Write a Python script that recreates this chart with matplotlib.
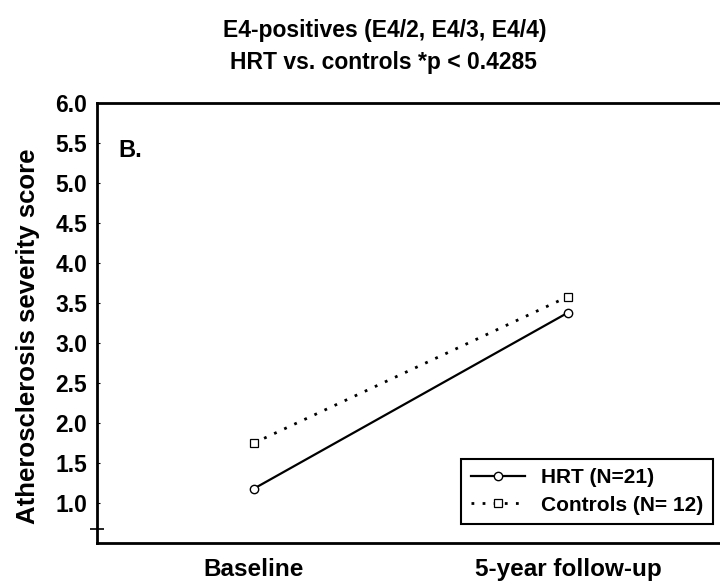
import matplotlib.pyplot as plt

# data
timepoints = ["Baseline", "5-year follow-up"]
x_pos = [1, 2]
hrt_scores = [1.18, 3.38]
control_scores = [1.75, 3.58]
y_ticks = [1.0, 1.5, 2.0, 2.5, 3.0, 3.5, 4.0, 4.5, 5.0, 5.5, 6.0]

plt.rcParams["font.family"] = ["Liberation Sans", "DejaVu Sans"]
plt.rcParams["font.weight"] = "bold"

fig = plt.figure(figsize=(7.2, 5.83), dpi=100)
ax = fig.add_axes([97 / 720, 40 / 583, 628 / 720, 440 / 583])

ax.plot(x_pos, hrt_scores, color="black", linewidth=1.6, marker="o",
        markersize=6, markerfacecolor="white", markeredgewidth=1.0,
        label="HRT (N=21)")
ax.plot(x_pos, control_scores, color="black", linewidth=2.0,
        linestyle=(0, (1, 3)), marker="s", markersize=6,
        markerfacecolor="white", markeredgewidth=0.9,
        label="Controls (N= 12)")

ax.set_xlim(0.5, 2.5)
ax.set_ylim(0.5, 6.0)
ax.set_yticks(y_ticks)
ax.set_yticklabels([f"{v:.1f}" for v in y_ticks], fontsize=16.5, fontweight="bold")
ax.set_yticks([0.68], minor=True)
ax.tick_params(axis="y", which="major", length=2, direction="in", pad=7)
ax.tick_params(axis="y", which="minor", length=10, direction="inout", width=1.2)
ax.set_xticks(x_pos)
ax.set_xticklabels(timepoints, fontsize=17.5, fontweight="bold")
ax.tick_params(axis="x", length=0, pad=11)

for spine in ax.spines.values():
    spine.set_linewidth(2.0)

ax.set_ylabel("Atherosclerosis severity score", fontsize=18.5, fontweight="bold")
ax.yaxis.set_label_coords(-0.091, 0.47)

ax.text(0.034, 0.893, "B.", transform=ax.transAxes, fontsize=17,
        fontweight="bold", va="center", ha="left")

fig.text(0.535, 0.947, "E4-positives (E4/2, E4/3, E4/4)", ha="center",
         va="center", fontsize=16.5, fontweight="bold")
fig.text(0.532, 0.893, "HRT vs. controls *p < 0.4285", ha="center",
         va="center", fontsize=16.5, fontweight="bold")

leg = ax.legend(loc="lower right", bbox_to_anchor=(713 / 720, 59 / 583),
                bbox_transform=fig.transFigure, fancybox=False,
                edgecolor="black", framealpha=1, handlelength=2.6,
                prop={"size": 15, "weight": "bold"}, borderpad=0.45,
                labelspacing=0.4, handletextpad=0.8, borderaxespad=0)
leg.get_frame().set_linewidth(1.5)

fig.savefig("out.png", dpi=100)
